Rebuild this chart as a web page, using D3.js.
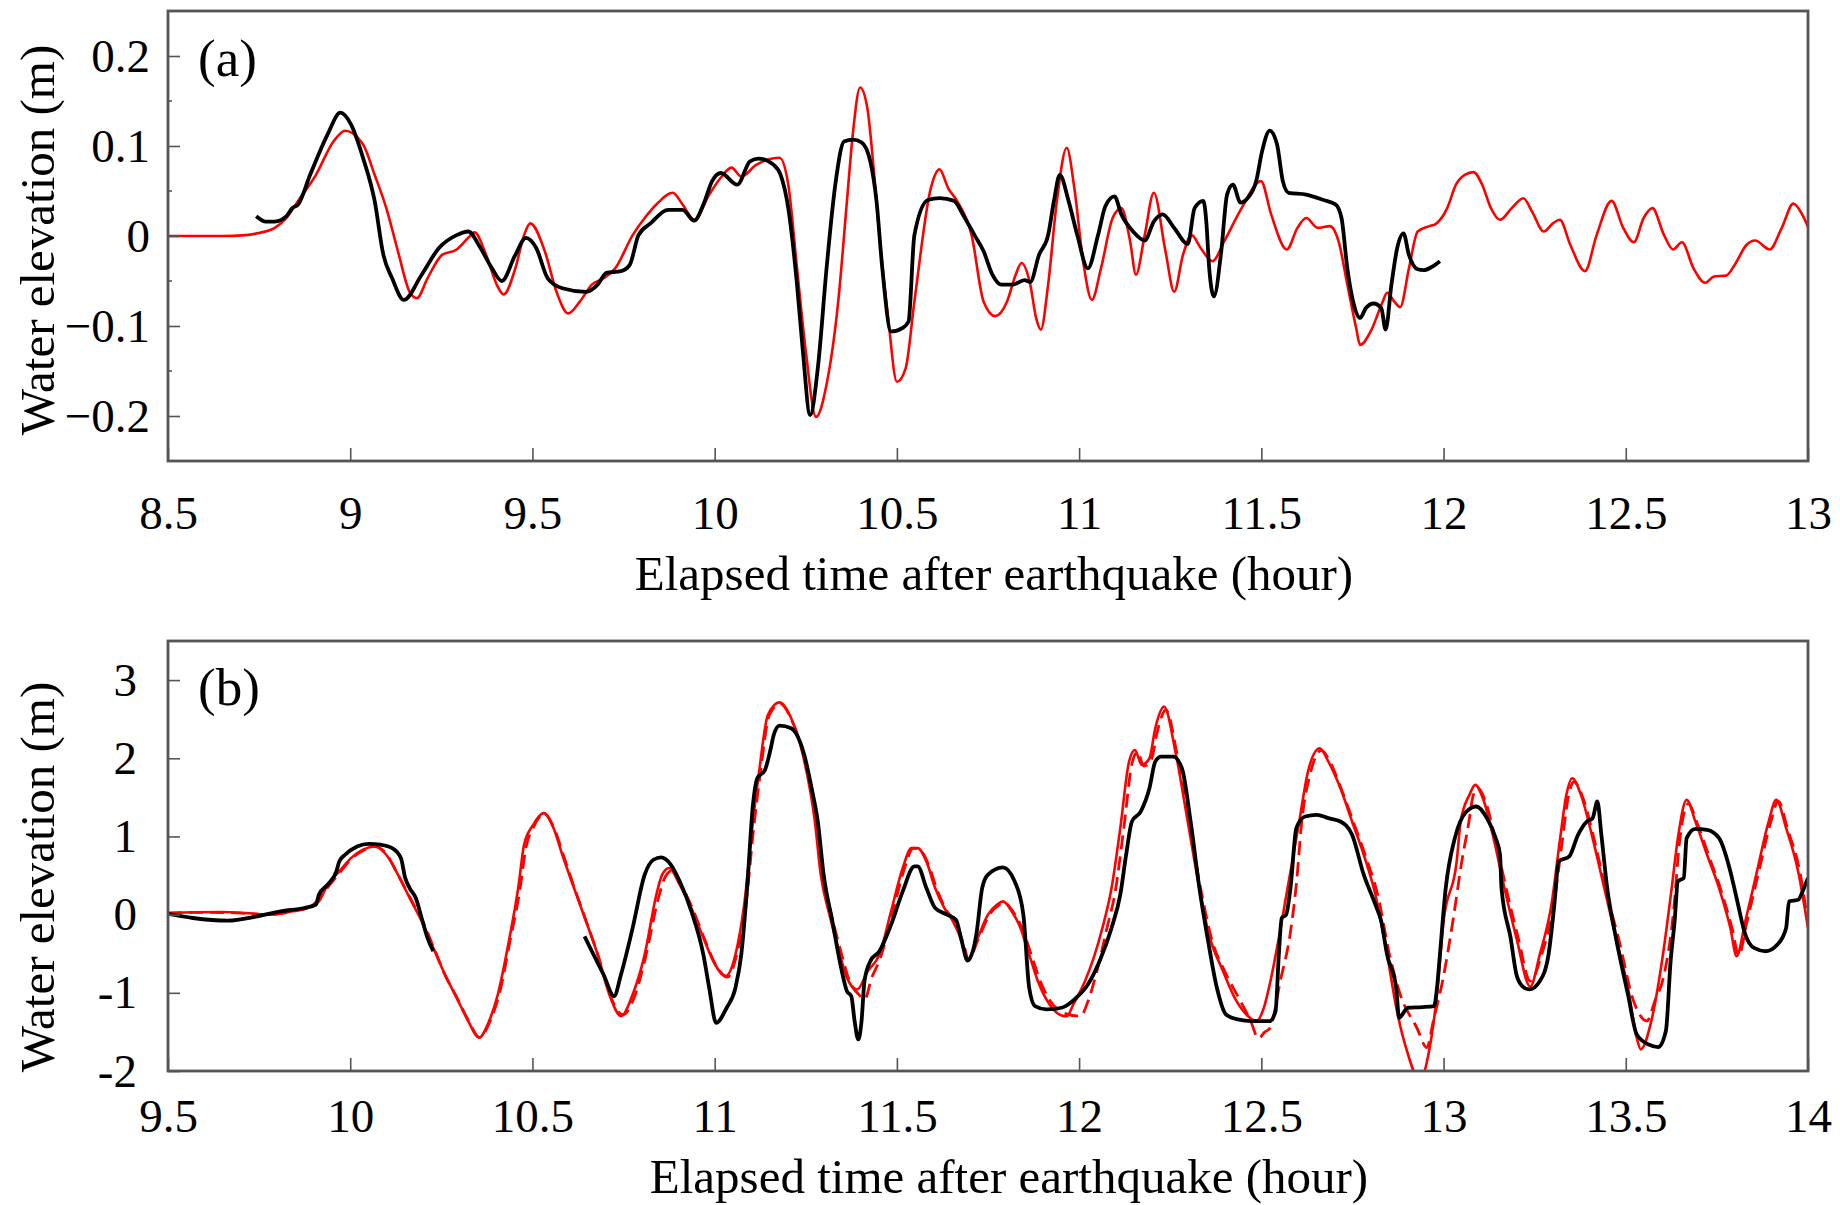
<!DOCTYPE html>
<html>
<head>
<meta charset="utf-8">
<script src="https://cdn.jsdelivr.net/npm/d3@7"></script>
<style>
  body { margin: 0; background: #fff; }
  svg text { font-family: "Liberation Serif", "Times New Roman", serif; fill: #000; }
</style>
</head>
<body>
<svg id="chart" width="1840" height="1205"></svg>
<script>
// panel (a): [hour, elevation m]
const aSimulated = [
  [8.5,0],[8.648,0],[8.713,0.001],[8.745,0.003],[8.793,0.009],[8.825,0.02],[8.857,0.039],[8.906,0.068],
  [8.954,0.105],[8.986,0.117],[9.035,0.102],[9.067,0.068],[9.099,0.031],[9.131,-0.017],[9.163,-0.062],
  [9.183,-0.069],[9.212,-0.047],[9.252,-0.021],[9.292,-0.015],[9.324,-0.002],[9.341,0.004],[9.373,-0.021],
  [9.402,-0.054],[9.421,-0.065],[9.453,-0.036],[9.477,0.001],[9.494,0.014],[9.534,-0.017],[9.566,-0.062],
  [9.598,-0.086],[9.63,-0.073],[9.663,-0.054],[9.695,-0.047],[9.727,-0.036],[9.775,0.001],[9.808,0.02],
  [9.84,0.035],[9.885,0.048],[9.912,0.035],[9.944,0.018],[9.985,0.046],[10.017,0.065],[10.046,0.076],
  [10.073,0.066],[10.114,0.079],[10.146,0.085],[10.178,0.087],[10.202,0.057],[10.226,-0.036],[10.25,-0.128],
  [10.278,-0.201],[10.307,-0.165],[10.339,-0.073],[10.363,0.039],[10.379,0.113],[10.399,0.165],[10.419,0.142],
  [10.436,0.076],[10.452,0.001],[10.476,-0.091],[10.5,-0.162],[10.524,-0.147],[10.548,-0.073],[10.593,0.053],
  [10.617,0.074],[10.641,0.053],[10.665,0.039],[10.705,0.001],[10.738,-0.073],[10.77,-0.089],[10.802,-0.073],
  [10.826,-0.043],[10.842,-0.03],[10.866,-0.054],[10.882,-0.091],[10.895,-0.104],[10.915,-0.054],[10.939,0.039],
  [10.966,0.098],[10.987,0.053],[11.011,-0.028],[11.035,-0.071],[11.06,-0.036],[11.092,0.02],[11.116,0.031],
  [11.14,-0.006],[11.156,-0.043],[11.18,0.001],[11.205,0.048],[11.237,-0.017],[11.261,-0.062],[11.285,-0.021],
  [11.309,0.001],[11.333,-0.013],[11.366,-0.028],[11.398,-0.006],[11.446,0.031],[11.499,0.061],[11.527,0.024],
  [11.57,-0.015],[11.599,0.009],[11.623,0.02],[11.655,0.009],[11.688,0.011],[11.712,-0.006],[11.736,-0.054],
  [11.76,-0.102],[11.771,-0.121],[11.8,-0.106],[11.833,-0.073],[11.845,-0.063],[11.865,-0.073],[11.881,-0.079],
  [11.905,-0.036],[11.929,0.005],[11.961,0.011],[11.977,0.013],[12.01,0.031],[12.034,0.057],[12.058,0.068],
  [12.082,0.071],[12.106,0.057],[12.13,0.031],[12.155,0.018],[12.187,0.031],[12.219,0.042],[12.243,0.027],
  [12.275,0.005],[12.3,0.014],[12.319,0.018],[12.348,-0.01],[12.388,-0.039],[12.42,0.001],[12.461,0.039],
  [12.493,0.009],[12.522,-0.007],[12.549,0.02],[12.573,0.031],[12.605,0.001],[12.63,-0.015],[12.654,-0.007],
  [12.686,-0.036],[12.718,-0.052],[12.742,-0.045],[12.775,-0.044],[12.799,-0.032],[12.831,-0.01],[12.855,-0.005],
  [12.895,-0.015],[12.928,0.009],[12.96,0.036],[12.984,0.024],[13.0,0.01]
];
const aObserved = [
  [8.742,0.022],[8.769,0.016],[8.793,0.016],[8.825,0.022],[8.841,0.031],[8.857,0.035],[8.89,0.068],[8.938,0.113],
  [8.973,0.137],[9.002,0.124],[9.035,0.087],[9.067,0.039],[9.091,-0.021],[9.115,-0.047],[9.147,-0.071],
  [9.196,-0.043],[9.244,-0.013],[9.292,0.001],[9.324,0.005],[9.357,-0.013],[9.389,-0.036],[9.416,-0.05],
  [9.453,-0.021],[9.482,-0.002],[9.51,-0.013],[9.542,-0.047],[9.582,-0.058],[9.647,-0.062],[9.679,-0.054],
  [9.703,-0.041],[9.743,-0.039],[9.767,-0.032],[9.791,0.001],[9.824,0.014],[9.872,0.029],[9.912,0.029],
  [9.944,0.017],[9.969,0.035],[9.993,0.061],[10.017,0.07],[10.062,0.057],[10.097,0.083],[10.121,0.086],
  [10.162,0.079],[10.181,0.068],[10.202,0.031],[10.226,-0.054],[10.242,-0.128],[10.262,-0.199],[10.283,-0.147],
  [10.307,-0.036],[10.331,0.057],[10.355,0.105],[10.379,0.107],[10.403,0.104],[10.427,0.083],[10.444,0.039],
  [10.46,-0.036],[10.484,-0.106],[10.516,-0.102],[10.532,-0.095],[10.548,0.001],[10.585,0.04],[10.617,0.042],
  [10.657,0.039],[10.681,0.024],[10.713,0.001],[10.738,-0.017],[10.762,-0.043],[10.786,-0.054],[10.818,-0.054],
  [10.85,-0.049],[10.866,-0.051],[10.89,-0.021],[10.915,0.001],[10.931,0.039],[10.947,0.068],[10.971,0.039],
  [10.995,0.001],[11.024,-0.036],[11.052,0.001],[11.072,0.033],[11.097,0.044],[11.116,0.024],[11.148,0.005],
  [11.18,-0.005],[11.205,0.016],[11.229,0.024],[11.261,0.009],[11.298,-0.009],[11.317,0.031],[11.341,0.039],
  [11.349,0.016],[11.357,-0.036],[11.37,-0.067],[11.39,-0.017],[11.406,0.046],[11.422,0.057],[11.443,0.037],
  [11.462,0.042],[11.486,0.061],[11.502,0.094],[11.523,0.117],[11.543,0.102],[11.559,0.061],[11.575,0.048],
  [11.623,0.046],[11.671,0.04],[11.704,0.035],[11.72,0.02],[11.736,-0.036],[11.752,-0.073],[11.771,-0.091],
  [11.787,-0.08],[11.808,-0.075],[11.829,-0.08],[11.841,-0.104],[11.857,-0.054],[11.873,-0.013],[11.89,0.003],
  [11.905,-0.021],[11.929,-0.037],[11.945,-0.038],[11.969,-0.034],[11.99,-0.028]
];

// panel (b)
const bSimulated = [
  [9.5,0.021],[9.568,0.03],[9.648,0.034],[9.713,0.021],[9.777,0],[9.841,0.043],[9.89,0.106],[9.914,0.17],
  [9.938,0.383],[9.97,0.553],[10.002,0.723],[10.035,0.83],[10.067,0.872],[10.099,0.766],[10.131,0.511],
  [10.163,0.213],[10.196,-0.085],[10.228,-0.426],[10.26,-0.766],[10.292,-1.064],[10.324,-1.362],[10.353,-1.574],
  [10.381,-1.362],[10.405,-1.021],[10.437,-0.298],[10.461,0.34],[10.477,0.894],[10.502,1.149],[10.531,1.298],
  [10.558,1.106],[10.582,0.766],[10.614,0.34],[10.647,-0.085],[10.679,-0.511],[10.711,-1.021],[10.743,-1.298],
  [10.775,-1.021],[10.808,-0.511],[10.84,0.255],[10.856,0.511],[10.875,0.596],[10.904,0.383],[10.936,0.085],
  [10.969,-0.298],[11.001,-0.638],[11.03,-0.787],[11.057,-0.511],[11.081,0.128],[11.105,1.191],[11.122,1.83],
  [11.146,2.553],[11.178,2.715],[11.21,2.511],[11.242,2.043],[11.275,1.191],[11.291,0.511],[11.315,0],
  [11.339,-0.426],[11.363,-0.809],[11.391,-0.957],[11.42,-0.723],[11.452,-0.511],[11.484,0.043],[11.516,0.596],
  [11.54,0.851],[11.557,0.851],[11.581,0.681],[11.605,0.34],[11.63,0.085],[11.654,-0.085],[11.678,-0.34],
  [11.694,-0.574],[11.718,-0.34],[11.75,0],[11.775,0.128],[11.791,0.17],[11.815,0.043],[11.839,-0.17],
  [11.863,-0.511],[11.887,-0.851],[11.919,-1.149],[11.952,-1.29],[11.966,-1.3],[11.984,-1.149],[12.016,-0.851],
  [12.04,-0.553],[12.064,-0.17],[12.089,0.34],[12.113,1.106],[12.137,1.957],[12.153,2.106],[12.172,1.915],
  [12.193,2.0],[12.209,2.383],[12.233,2.66],[12.266,2.043],[12.298,1.191],[12.33,0.34],[12.356,-0.25],
  [12.395,-0.723],[12.427,-1.064],[12.459,-1.277],[12.486,-1.362],[12.507,-1.191],[12.523,-0.894],[12.548,-0.298],
  [12.572,0.34],[12.604,1.191],[12.628,1.83],[12.66,2.128],[12.684,1.957],[12.717,1.617],[12.749,1.191],
  [12.781,0.766],[12.813,0.255],[12.845,-0.511],[12.872,-1.23],[12.9,-1.75],[12.935,-2.12],[12.96,-1.75],
  [12.982,-1.02],[13.0,-0.09],[13.036,0.68],[13.047,1.191],[13.071,1.532],[13.087,1.66],[13.111,1.447],
  [13.135,1.021],[13.167,0.34],[13.2,-0.298],[13.238,-0.92],[13.264,-0.511],[13.296,0.128],[13.32,0.979],
  [13.337,1.532],[13.353,1.745],[13.377,1.532],[13.409,0.979],[13.441,0.34],[13.473,-0.298],[13.506,-0.936],
  [13.53,-1.574],[13.541,-1.723],[13.57,-1.362],[13.602,-0.511],[13.626,0.34],[13.643,0.979],[13.667,1.468],
  [13.691,1.191],[13.723,0.766],[13.756,0.34],[13.787,-0.17],[13.804,-0.532],[13.828,-0.085],[13.86,0.553],
  [13.892,1.191],[13.913,1.468],[13.94,1.106],[13.973,0.553],[14.0,-0.17]
];
const bSimulated2 = [
  [9.5,0.02],[9.6,0.03],[9.7,0.02],[9.78,0],[9.84,0.04],[9.89,0.1],[9.94,0.36],[9.97,0.53],[10.0,0.7],
  [10.04,0.83],[10.07,0.87],[10.1,0.77],[10.13,0.52],[10.165,0.21],[10.2,-0.1],[10.23,-0.43],[10.26,-0.77],
  [10.295,-1.08],[10.325,-1.36],[10.355,-1.57],[10.385,-1.35],[10.41,-1.0],[10.44,-0.3],[10.465,0.3],
  [10.482,0.85],[10.505,1.14],[10.533,1.29],[10.56,1.1],[10.585,0.76],[10.616,0.33],[10.648,-0.09],[10.68,-0.52],
  [10.713,-1.03],[10.748,-1.28],[10.78,-1.05],[10.81,-0.55],[10.845,0.2],[10.862,0.46],[10.882,0.56],[10.91,0.36],
  [10.94,0.07],[10.972,-0.31],[11.005,-0.66],[11.035,-0.8],[11.06,-0.52],[11.085,0.1],[11.108,1.15],[11.125,1.8],
  [11.15,2.55],[11.18,2.7],[11.21,2.5],[11.245,2.02],[11.278,1.18],[11.295,0.5],[11.32,0],[11.345,-0.45],
  [11.37,-0.85],[11.395,-1.02],[11.412,-1.08],[11.43,-0.82],[11.455,-0.55],[11.488,0.02],[11.52,0.58],
  [11.545,0.85],[11.56,0.84],[11.585,0.66],[11.61,0.32],[11.634,0.07],[11.66,-0.1],[11.682,-0.36],[11.697,-0.57],
  [11.722,-0.33],[11.754,0],[11.779,0.12],[11.795,0.15],[11.82,0.03],[11.845,-0.19],[11.87,-0.53],[11.895,-0.87],
  [11.93,-1.16],[11.965,-1.27],[12.003,-1.3],[12.025,-1.1],[12.05,-0.7],[12.075,-0.2],[12.1,0.32],[12.122,1.08],
  [12.145,1.93],[12.16,2.08],[12.178,1.9],[12.198,1.98],[12.215,2.35],[12.238,2.62],[12.27,2.02],[12.302,1.17],
  [12.334,0.32],[12.366,-0.35],[12.4,-0.73],[12.442,-1.1],[12.47,-1.35],[12.492,-1.58],[12.51,-1.5],
  [12.524,-1.45],[12.552,-0.85],[12.579,-0.25],[12.597,0.43],[12.61,1.15],[12.634,1.8],[12.665,2.1],[12.69,1.94],
  [12.72,1.6],[12.753,1.18],[12.786,0.75],[12.82,0.24],[12.852,-0.52],[12.881,-1.02],[12.927,-1.45],
  [12.954,-1.7],[12.972,-1.36],[12.999,-0.81],[13.027,-0.04],[13.05,0.68],[13.07,1.2],[13.08,1.5],[13.093,1.62],
  [13.117,1.42],[13.14,1.0],[13.172,0.33],[13.205,-0.3],[13.238,-0.85],[13.27,-0.5],[13.302,0.12],[13.326,0.95],
  [13.342,1.5],[13.358,1.7],[13.382,1.5],[13.414,0.95],[13.448,0.26],[13.48,-0.3],[13.521,-1.1],[13.558,-1.36],
  [13.58,-1.1],[13.603,-0.81],[13.631,0.04],[13.648,0.95],[13.672,1.42],[13.696,1.17],[13.728,0.75],[13.76,0.33],
  [13.792,-0.18],[13.81,-0.52],[13.833,-0.08],[13.865,0.55],[13.897,1.17],[13.918,1.45],[13.945,1.08],
  [13.978,0.54],[14.0,-0.12]
];
const bObserved = [
  [9.5,0.009],[9.568,-0.043],[9.664,-0.077],[9.745,-0.021],[9.809,0.043],[9.874,0.085],[9.906,0.128],
  [9.914,0.255],[9.938,0.383],[9.962,0.553],[9.97,0.681],[9.986,0.766],[10.019,0.872],[10.051,0.906],
  [10.083,0.894],[10.115,0.851],[10.139,0.723],[10.151,0.468],[10.163,0.34],[10.18,0.213],[10.196,-0.043],
  [10.212,-0.298],[10.228,-0.468],[10.4,null],
  [10.643,-0.277],[10.663,-0.468],[10.695,-0.766],[10.724,-1.043],[10.743,-0.766],[10.775,-0.17],[10.808,0.511],
  [10.832,0.702],[10.853,0.732],[10.88,0.638],[10.904,0.426],[10.936,0.043],[10.969,-0.511],[10.985,-0.936],
  [11.004,-1.383],[11.033,-1.191],[11.057,-0.936],[11.073,-0.511],[11.089,0.34],[11.105,1.404],[11.117,1.745],
  [11.138,1.851],[11.154,2.128],[11.162,2.298],[11.178,2.417],[11.21,2.383],[11.234,2.213],[11.246,2.043],
  [11.266,1.617],[11.283,1.191],[11.299,0.511],[11.323,-0.085],[11.347,-0.681],[11.363,-0.979],[11.375,-1.043],
  [11.384,-1.362],[11.394,-1.596],[11.403,-1.362],[11.411,-0.851],[11.427,-0.596],[11.452,-0.468],[11.484,-0.128],
  [11.516,0.298],[11.548,0.617],[11.557,0.617],[11.581,0.34],[11.605,0.085],[11.638,0],[11.662,-0.064],
  [11.678,-0.34],[11.694,-0.587],[11.718,-0.255],[11.734,0.34],[11.75,0.511],[11.791,0.604],[11.823,0.426],
  [11.847,0],[11.863,-0.936],[11.879,-1.17],[11.911,-1.213],[11.952,-1.191],[11.992,-1.064],[12.024,-0.894],
  [12.056,-0.596],[12.089,-0.17],[12.113,0.255],[12.129,0.766],[12.145,1.191],[12.169,1.319],[12.193,1.617],
  [12.209,1.957],[12.225,2.021],[12.258,2.021],[12.282,1.872],[12.306,1.191],[12.33,0.34],[12.354,-0.34],
  [12.378,-0.936],[12.403,-1.277],[12.435,-1.34],[12.475,-1.362],[12.523,-1.362],[12.539,-1.234],[12.548,-0.511],
  [12.556,-0.043],[12.568,0],[12.58,0.34],[12.596,1.106],[12.62,1.255],[12.652,1.277],[12.684,1.234],
  [12.717,1.191],[12.749,1.021],[12.781,0.511],[12.813,0.128],[12.829,-0.085],[12.845,-0.511],[12.87,-0.936],
  [12.878,-1.319],[12.902,-1.191],[12.942,-1.183],[12.974,-1.17],[12.982,-0.936],[12.99,-0.511],[13.006,0.34],
  [13.031,0.979],[13.063,1.319],[13.09,1.383],[13.119,1.234],[13.143,0.979],[13.155,0.766],[13.159,0.34],
  [13.184,-0.298],[13.2,-0.766],[13.216,-0.915],[13.235,-0.957],[13.264,-0.851],[13.288,-0.511],[13.304,0.128],
  [13.316,0.681],[13.345,0.745],[13.369,1.021],[13.393,1.191],[13.409,1.234],[13.422,1.447],[13.433,1.021],
  [13.449,0.34],[13.473,-0.298],[13.506,-1.021],[13.53,-1.532],[13.562,-1.66],[13.589,-1.694],[13.61,-1.489],
  [13.623,-0.596],[13.634,-0.085],[13.643,0.426],[13.659,0.468],[13.667,0.979],[13.691,1.098],[13.723,1.085],
  [13.756,0.979],[13.787,0.553],[13.804,0.213],[13.828,-0.255],[13.852,-0.426],[13.884,-0.468],[13.916,-0.383],
  [13.94,-0.17],[13.948,0.17],[13.973,0.191],[13.989,0.34],[14.0,0.468]
];

const aXTicks = [8.5, 9, 9.5, 10, 10.5, 11, 11.5, 12, 12.5, 13];
const aYTicks = [-0.2, -0.1, 0, 0.1, 0.2];
const aYMinor = [-0.15, -0.05, 0.05, 0.15];
const bXTicks = [9.5, 10, 10.5, 11, 11.5, 12, 12.5, 13, 13.5, 14];
const bYTicks = [-2, -1, 0, 1, 2, 3];

const svg = d3.select("#chart");
svg.append("rect").attr("width", 1840).attr("height", 1205).attr("fill", "#fff");

const panels = [
  {id: "a", label: "(a)", top: 11, bottom: 461, xDom: [8.5, 13], yDom: [-0.25, 0.25],
   xTicks: aXTicks, yTicks: aYTicks, yMinor: aYMinor, yPad: 18, xPad: 35,
   yFmt: d => d === 0 ? "0" : d3.format(".1f")(d),
   titleY: 590, ytitleC: 240, labelY: 76,
   series: [
     {data: aSimulated, color: "#ff0000", width: 2.6, dash: null},
     {data: aObserved, color: "#000", width: 3.8, dash: null}
   ]},
  {id: "b", label: "(b)", top: 641, bottom: 1071, xDom: [9.5, 14], yDom: [-2, 3.5],
   xTicks: bXTicks, yTicks: bYTicks, yMinor: [], yPad: 31, xPad: 28,
   yFmt: d => String(d),
   titleY: 1193, ytitleC: 877, labelY: 705,
   series: [
     {data: bSimulated, color: "#ff0000", width: 2.6, dash: null},
     {data: bSimulated2, color: "#ff0000", width: 2.8, dash: "14,7"},
     {data: bObserved, color: "#000", width: 3.8, dash: null}
   ]}
];

const left = 168, right = 1808;

panels.forEach(p => {
  const x = d3.scaleLinear().domain(p.xDom).range([left, right]);
  const y = d3.scaleLinear().domain(p.yDom).range([p.bottom, p.top]);
  const g = svg.append("g");

  g.append("clipPath").attr("id", "clip-" + p.id)
    .append("rect").attr("x", left).attr("y", p.top)
    .attr("width", right - left).attr("height", p.bottom - p.top);

  const line = d3.line()
    .defined(d => d[1] != null)
    .x(d => x(d[0])).y(d => y(d[1]))
    .curve(d3.curveMonotoneX);

  const lines = g.append("g").attr("clip-path", `url(#clip-${p.id})`);
  p.series.forEach(s => {
    lines.append("path")
      .datum(s.data)
      .attr("d", line)
      .attr("fill", "none")
      .attr("stroke", s.color)
      .attr("stroke-width", s.width)
      .attr("stroke-linejoin", "round")
      .attr("stroke-dasharray", s.dash);
  });

  // bottom axis, ticks pointing inward
  const xAxis = g.append("g")
    .attr("transform", `translate(0,${p.bottom})`)
    .call(d3.axisBottom(x).tickValues(p.xTicks).tickSize(-13).tickPadding(p.xPad)
      .tickFormat(d => String(d)));
  xAxis.select(".domain").remove();
  xAxis.selectAll("line").attr("stroke", "#555").attr("stroke-width", 1.6);
  xAxis.selectAll("text").attr("font-size", 47);

  // left axis
  const yAxis = g.append("g")
    .attr("transform", `translate(${left},0)`)
    .call(d3.axisLeft(y).tickValues(p.yTicks).tickSize(-12).tickPadding(p.yPad).tickFormat(p.yFmt));
  yAxis.select(".domain").remove();
  yAxis.selectAll("line").attr("stroke", "#555").attr("stroke-width", 1.6);
  yAxis.selectAll("text").attr("font-size", 47);

  g.selectAll(".minor")
    .data(p.yMinor)
    .join("line")
    .attr("x1", left).attr("x2", left + 4)
    .attr("y1", d => y(d)).attr("y2", d => y(d))
    .attr("stroke", "#555").attr("stroke-width", 1.6);

  // frame
  g.append("rect")
    .attr("x", left).attr("y", p.top)
    .attr("width", right - left).attr("height", p.bottom - p.top)
    .attr("fill", "none").attr("stroke", "#555").attr("stroke-width", 2.8);

  g.append("text")
    .attr("x", 198).attr("y", p.labelY)
    .attr("font-size", 53)
    .text(p.label);

  g.append("text")
    .attr("x", p.id === "a" ? 994 : 1009).attr("y", p.titleY)
    .attr("text-anchor", "middle")
    .attr("font-size", 49)
    .text("Elapsed time after earthquake (hour)");

  g.append("text")
    .attr("transform", `translate(54,${p.ytitleC}) rotate(-90)`)
    .attr("text-anchor", "middle")
    .attr("font-size", 49)
    .text("Water elevation (m)");
});
</script>
</body>
</html>
